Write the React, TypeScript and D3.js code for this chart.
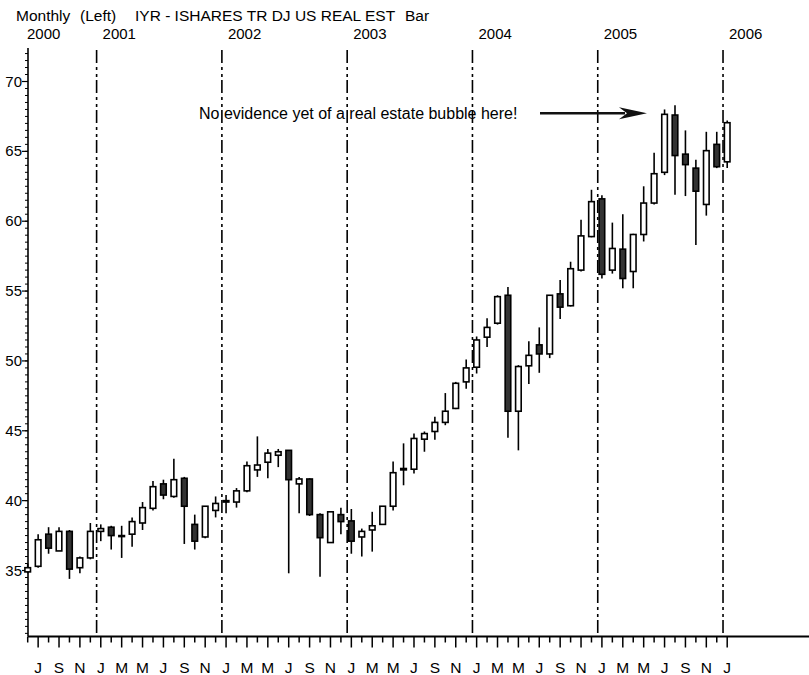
import React from 'react';
import * as d3 from 'd3';

// Monthly IYR candles, Jun 2000 .. Jan 2006
const firstMonth = 5; // June (0 = Jan)
const firstYear = 2000;

const opens = [
  34.9, 35.3, 37.6, 36.4, 37.8, 35.2, 35.9,
  37.8, 38.1, 37.45, 37.6, 38.4, 39.45, 41.2, 40.3, 41.6, 38.3, 37.4, 39.3,
  39.9, 39.9, 40.7, 42.2, 42.75, 43.25, 43.6, 41.2, 41.55, 39.0, 37.0, 39.0,
  38.55, 37.4, 37.9, 38.3, 39.6, 42.2, 42.25, 44.4, 44.95, 45.6, 46.6, 48.5,
  49.55, 51.7, 52.7, 54.7, 46.4, 49.65, 51.15, 50.5, 54.8, 53.95, 56.5, 58.9,
  61.6, 56.5, 58.0, 56.4, 59.05, 61.3, 63.5, 67.6, 64.8, 63.8, 61.2, 65.5,
  64.25,
];
const highs = [
  35.5, 37.6, 38.1, 38.1, 37.9, 36.0, 38.4,
  38.3, 38.2, 38.2, 38.8, 39.9, 41.4, 41.5, 43.0, 41.7, 39.0, 39.6, 40.3,
  40.4, 40.9, 42.8, 44.6, 43.7, 43.7, 43.6, 41.7, 41.6, 39.1, 39.2, 39.5,
  39.4, 38.0, 39.2, 39.6, 42.8, 44.1, 44.8, 44.95, 46.0, 47.7, 48.5, 50.1,
  51.75, 53.05, 54.7, 55.3, 49.7, 51.4, 52.4, 54.7, 55.8, 57.1, 60.1, 62.25,
  61.85, 59.9, 60.5, 59.1, 62.5, 64.9, 68.0, 68.3, 66.5, 64.4, 66.4, 66.4,
  67.2,
];
const lows = [
  34.8, 35.2, 36.2, 36.4, 34.4, 34.8, 35.8,
  37.1, 36.5, 35.9, 36.7, 37.9, 39.3, 40.1, 40.2, 36.9, 36.5, 37.3, 38.8,
  39.1, 39.5, 40.6, 41.7, 41.6, 42.4, 34.8, 39.1, 38.9, 34.55, 37.0, 37.6,
  36.2, 36.0, 36.35, 38.3, 39.3, 41.1, 41.95, 43.5, 44.35, 45.4, 46.55, 48.0,
  49.1, 51.0, 52.6, 44.5, 43.6, 48.35, 49.15, 50.2, 53.0, 53.9, 56.4, 58.85,
  55.9, 56.25, 55.2, 55.2, 58.55, 61.2, 63.3, 61.9, 61.8, 58.3, 60.4, 63.8,
  63.8,
];
const closes = [
  35.2, 37.2, 36.6, 37.8, 35.1, 35.9, 37.8,
  38.0, 37.5, 37.5, 38.5, 39.5, 41.0, 40.4, 41.5, 39.6, 37.1, 39.6, 39.8,
  40.0, 40.7, 42.5, 42.55, 43.4, 43.5, 41.5, 41.55, 39.0, 37.35, 39.2, 38.5,
  37.1, 37.8, 38.2, 39.6, 42.0, 42.3, 44.45, 44.8, 45.6, 46.4, 48.4, 49.5,
  51.5, 52.4, 54.6, 46.4, 49.6, 50.4, 50.5, 54.7, 53.85, 56.6, 58.95, 61.4,
  56.2, 58.05, 55.9, 59.05, 61.3, 63.4, 67.65, 64.7, 64.05, 62.15, 65.05, 63.9,
  67.05,
];

const monthLetters = ['J', 'F', 'M', 'A', 'M', 'J', 'J', 'A', 'S', 'O', 'N', 'D'];
const yLabels = [35, 40, 45, 50, 55, 60, 65, 70];

const titleParts = [
  { text: 'Monthly', x: 16 },
  { text: '(Left)', x: 80 },
  { text: 'IYR - ISHARES TR DJ US REAL EST', x: 135 },
  { text: 'Bar', x: 405 },
];
const note = 'No evidence yet of a real estate bubble here!';

const W = 809;
const H = 675;
const font = "'Liberation Sans', Arial, sans-serif";

export default function App() {
  const n = opens.length;
  const candles = d3.range(n).map((i) => ({
    i,
    o: opens[i],
    h: highs[i],
    l: lows[i],
    c: closes[i],
    m: (firstMonth + i) % 12,
    yr: firstYear + Math.floor((firstMonth + i) / 12),
  }));

  const x = d3.scaleLinear().domain([0, n - 1]).range([27.7, 727.2]);
  const step = x(1) - x(0);
  const y = d3.scaleLinear().domain([35, 70]).range([570.5, 81.5]);
  const axisX = 28;
  const axisY = 636.5;
  const axisTop = 48;

  // minor ticks every 0.5
  const minor = d3.range(30.5, y.invert(axisTop), 0.5);
  const yearStarts = candles.filter((d) => d.m === 0);
  const bodyW = 5.6;

  // arrow pointing right
  const ay = 113.3;
  const arrow = d3.path();
  arrow.moveTo(647, ay);
  arrow.lineTo(619, ay - 6);
  arrow.lineTo(627, ay);
  arrow.lineTo(619, ay + 6);
  arrow.closePath();

  return (
    <div style={{ position: 'absolute', left: 0, top: 0 }}>
      <svg width={W} height={H} style={{ display: 'block', background: '#fff' }} fontFamily={font}>
        {/* title */}
        {titleParts.map((t) => (
          <text key={t.text} x={t.x} y={21} fontSize={15.5} fill="#000">{t.text}</text>
        ))}

        {/* year labels */}
        <text x={27} y={38.5} fontSize={15}>{firstYear}</text>
        {yearStarts.map((d) => (
          <text key={d.yr} x={x(d.i) - 0.4 * step + 6} y={38.5} fontSize={15}>{d.yr}</text>
        ))}

        {/* year separators */}
        {yearStarts.map((d) => (
          <line key={'l' + d.yr} x1={x(d.i) - 0.4 * step} x2={x(d.i) - 0.4 * step} y1={50} y2={axisY}
            stroke="#000" strokeWidth={1.6} strokeDasharray="13,4,3,4,3,3" />
        ))}

        {/* y axis */}
        <line x1={axisX} x2={axisX} y1={axisTop} y2={axisY} stroke="#000" strokeWidth={1.6} />
        {minor.map((v) => (
          <line key={'m' + v} x1={axisX - 3} x2={axisX} y1={y(v)} y2={y(v)} stroke="#000" strokeWidth={1} />
        ))}
        {yLabels.map((v) => (
          <g key={'y' + v}>
            <line x1={axisX - 6} x2={axisX} y1={y(v)} y2={y(v)} stroke="#000" strokeWidth={1.2} />
            <text x={axisX - 6} y={y(v) + 5} fontSize={15} textAnchor="end">{v}</text>
          </g>
        ))}

        {/* x axis */}
        <line x1={axisX} x2={W} y1={axisY} y2={axisY} stroke="#000" strokeWidth={2} />
        {candles.map((d) => (
          <g key={'t' + d.i}>
            <line x1={x(d.i)} x2={x(d.i)} y1={axisY} y2={axisY + (d.m % 2 === 0 ? 11 : 6)}
              stroke="#000" strokeWidth={1.5} />
            {d.m % 2 === 0 && (
              <text x={x(d.i)} y={673} fontSize={15.5} textAnchor="middle">{monthLetters[d.m]}</text>
            )}
          </g>
        ))}

        {/* candles */}
        {candles.map((d) => {
          const up = d.c >= d.o;
          const top = y(Math.max(d.o, d.c));
          const bot = y(Math.min(d.o, d.c));
          return (
            <g key={'c' + d.i}>
              <line x1={x(d.i)} x2={x(d.i)} y1={y(d.h)} y2={y(d.l)} stroke="#000" strokeWidth={1.6} />
              <rect x={x(d.i) - bodyW / 2} y={top} width={bodyW} height={Math.max(bot - top, 1)}
                fill={up ? '#fff' : '#333'} stroke="#000" strokeWidth={1.6} />
            </g>
          );
        })}

        {/* annotation */}
        <text x={199} y={119} fontSize={16}>{note}</text>
        <line x1={540} x2={625} y1={ay} y2={ay} stroke="#111" strokeWidth={2.6} />
        <path d={arrow.toString()} fill="#111" />
      </svg>
    </div>
  );
}
